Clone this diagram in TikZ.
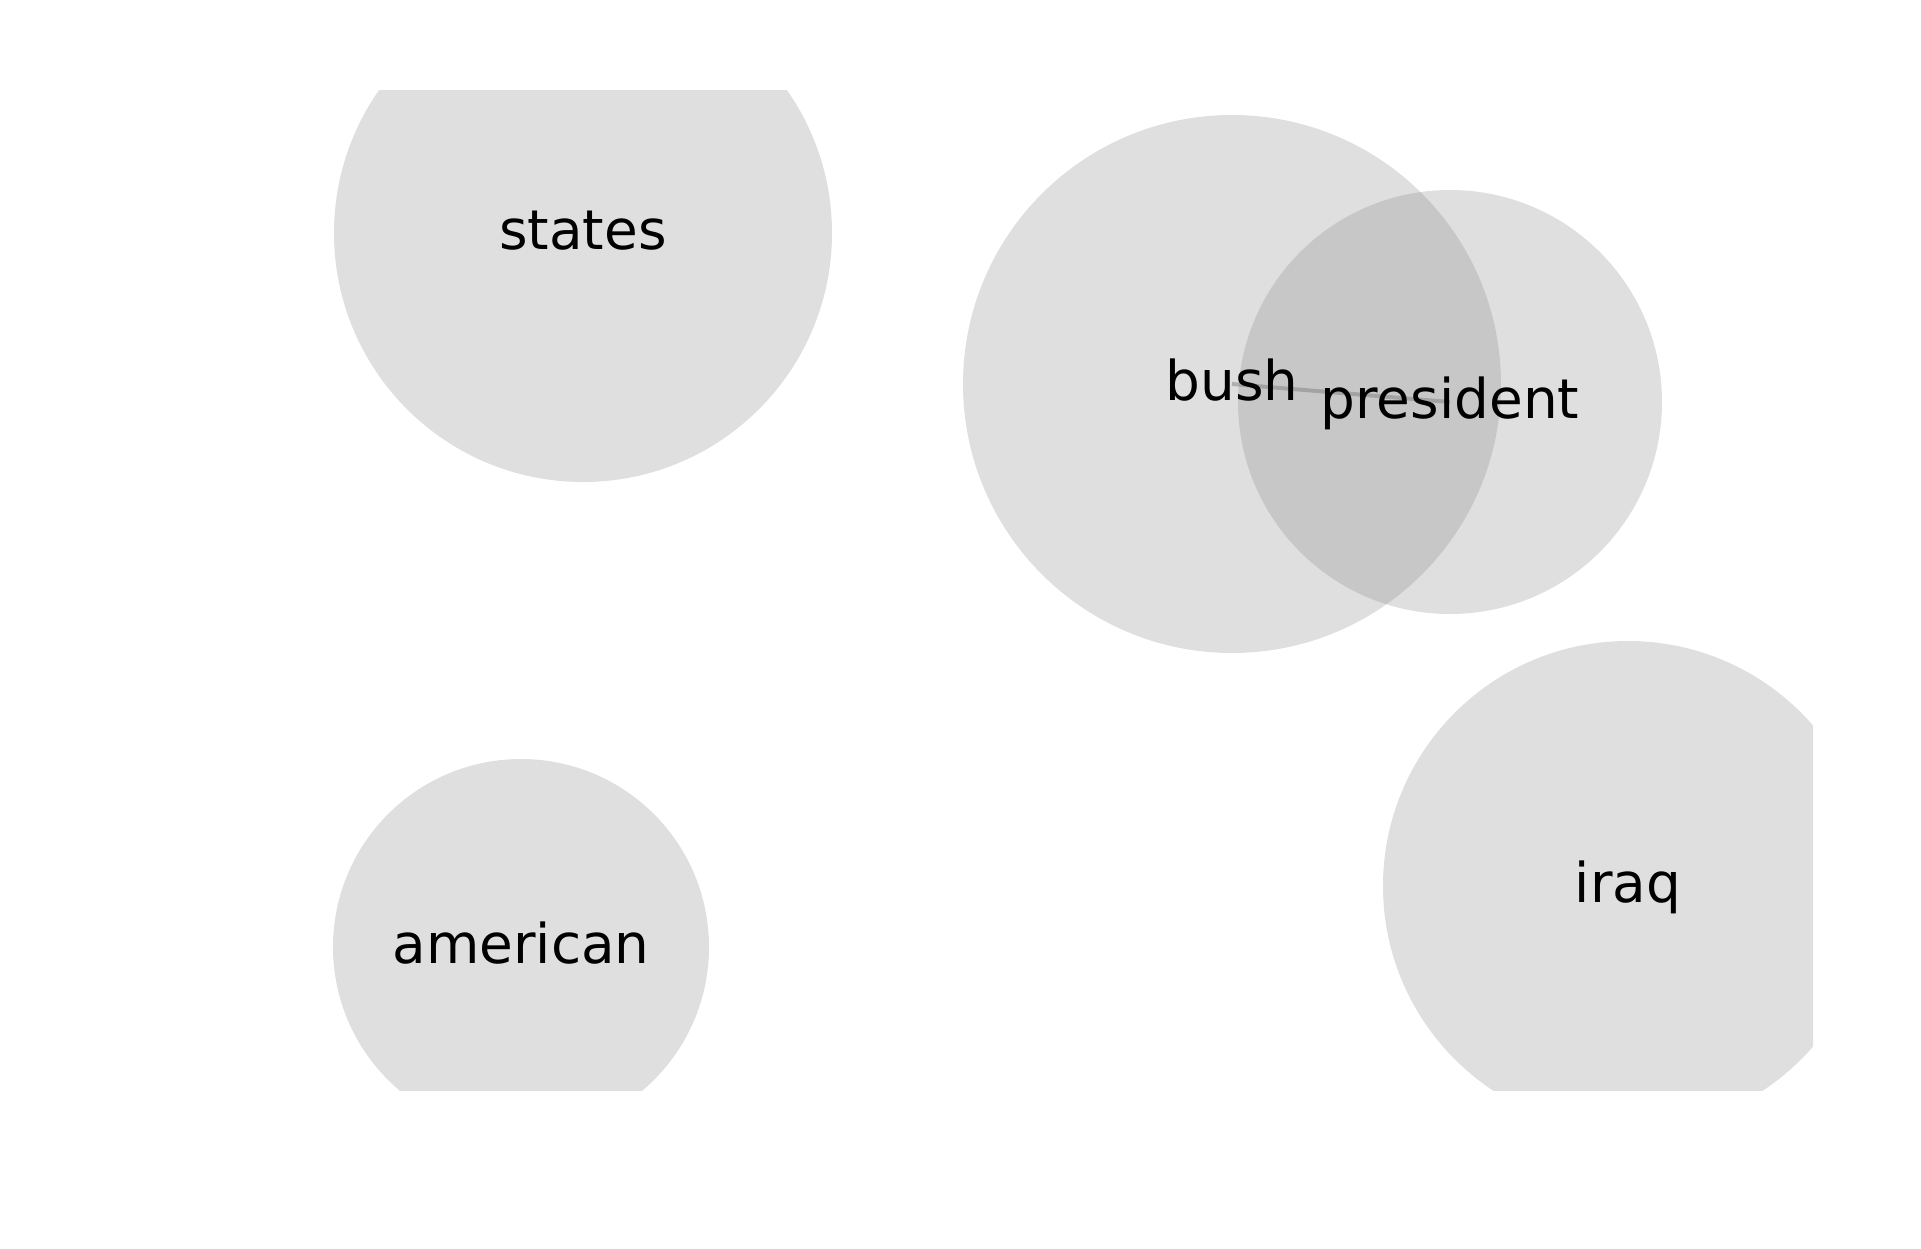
\documentclass[tikz,border=0pt]{standalone}
\usepackage{fontspec}
\setmainfont{DejaVu Sans}

\begin{document}
\begin{tikzpicture}[
  blob/.style={fill=gray, fill opacity=0.25},
  link/.style={draw=gray, draw opacity=0.5, line width=0.04cm},
  word/.style={anchor=base, yshift=-0.165cm, inner sep=0pt,
    font=\fontsize{15.6}{18}\selectfont}]
  \useasboundingbox (0,0) rectangle (19.21,-12.49);
  \clip (1.08,-0.90) rectangle (18.13,-10.90);
  \coordinate (St) at (5.83,-2.33);
  \coordinate (Bu) at (12.32,-3.84);
  \coordinate (Pr) at (14.50,-4.02);
  \coordinate (Ir) at (16.28,-8.86);
  \coordinate (Am) at (5.21,-9.47);
  \fill[blob] (St) circle (2.49);
  \fill[blob] (Bu) circle (2.69);
  \fill[blob] (Pr) circle (2.12);
  \fill[blob] (Ir) circle (2.45);
  \fill[blob] (Am) circle (1.88);
  \draw[link] (Bu) -- (Pr);
  \node[word] (states) at (St) {states};
  \node[word] (bush) at (Bu) {bush};
  \node[word] (president) at (Pr) {president};
  \node[word] (iraq) at (Ir) {iraq};
  \node[word] (american) at (Am) {american};
\end{tikzpicture}
\end{document}
